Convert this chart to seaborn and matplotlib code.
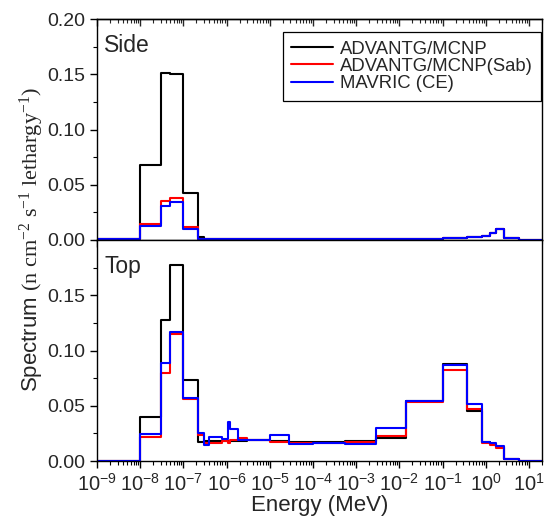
import numpy as np
import pandas as pd
import matplotlib
matplotlib.use("Agg")
import matplotlib.pyplot as plt
from matplotlib.ticker import MultipleLocator, FixedLocator, FormatStrFormatter, LogLocator, NullFormatter
import seaborn as sns

# ---------------- data ----------------
edges = [1e-9, 1e-8, 3e-8, 5e-8, 1e-7, 2.2e-7, 3e-7, 4e-7, 7.7e-7, 1.07e-6, 1.2e-6,
         1.8e-6, 3e-6, 1e-5, 2.8e-5, 1e-4, 5.5e-4, 2.8e-3, 1.4e-2, 0.1, 0.37, 0.8,
         1.25, 1.7, 2.7, 5.9, 20]

methods = ["ADVANTG/MCNP", "ADVANTG/MCNP(Sab)", "MAVRIC (CE)"]
colors = ["black", "red", "blue"]

side_mcnp = [0.0012, 0.0675, 0.1515, 0.150, 0.0424, 0.003, 0.0008, 0.0007, 0.0006, 0.0006,
             0.0006, 0.0006, 0.0006, 0.0006, 0.0006, 0.0006, 0.0006, 0.0007, 0.0007, 0.0015,
             0.003, 0.0036, 0.0066, 0.010, 0.0018, 0.0003]
side_sab = [0.0010, 0.0143, 0.0357, 0.038, 0.012, 0.0012, 0.0007, 0.0006, 0.0006, 0.0006,
            0.0006, 0.0006, 0.0006, 0.0006, 0.0006, 0.0006, 0.0006, 0.0007, 0.0007, 0.0015,
            0.003, 0.0036, 0.0066, 0.010, 0.0018, 0.0003]
side_mavric = [0.0008, 0.0127, 0.031, 0.0343, 0.0103, 0.0010, 0.0006, 0.0006, 0.0006, 0.0006,
               0.0006, 0.0006, 0.0006, 0.0006, 0.0006, 0.0006, 0.0006, 0.0007, 0.0007, 0.0015,
               0.003, 0.0036, 0.0066, 0.010, 0.0018, 0.0003]

top_mcnp = [0.0, 0.040, 0.128, 0.177, 0.073, 0.0173, 0.018, 0.018, 0.018, 0.018,
            0.018, 0.018, 0.0187, 0.018, 0.0175, 0.017, 0.0185, 0.021, 0.0545, 0.088,
            0.0455, 0.017, 0.0155, 0.013, 0.002, 0.0]
top_sab = [0.0, 0.022, 0.080, 0.1145, 0.0557, 0.0236, 0.0167, 0.0167, 0.018, 0.016,
           0.0187, 0.021, 0.019, 0.0175, 0.016, 0.0167, 0.017, 0.0225, 0.053, 0.082,
           0.0473, 0.016, 0.0148, 0.012, 0.002, 0.0]
top_mavric = [0.0, 0.0248, 0.089, 0.117, 0.057, 0.025, 0.0145, 0.0218, 0.020, 0.035,
              0.029, 0.019, 0.019, 0.0236, 0.0152, 0.0167, 0.015, 0.0297, 0.0543, 0.0867,
              0.052, 0.0176, 0.0167, 0.014, 0.002, 0.0]

y_ticks_side = [0.00, 0.05, 0.10, 0.15, 0.20]
y_ticks_top = [0.00, 0.05, 0.10, 0.15]
x_major = [1e-9, 1e-8, 1e-7, 1e-6, 1e-5, 1e-4, 1e-3, 1e-2, 1e-1, 1e0, 1e1]


def long_frame(series):
    rows = []
    for name, vals in zip(methods, series):
        yv = list(vals) + [vals[-1]]
        for e, v in zip(edges, yv):
            rows.append({"Energy": e, "Spectrum": v, "Method": name})
    return pd.DataFrame(rows)


df_side = long_frame([side_mcnp, side_sab, side_mavric])
df_top = long_frame([top_mcnp, top_sab, top_mavric])

# ---------------- style ----------------
sns.set_style("ticks")
plt.rcParams["font.family"] = ["Liberation Sans", "DejaVu Sans"]
plt.rcParams["mathtext.fontset"] = "custom"
plt.rcParams["mathtext.rm"] = "Liberation Serif"
plt.rcParams["mathtext.it"] = "Liberation Serif:italic"
plt.rcParams["axes.edgecolor"] = "black"
plt.rcParams["axes.linewidth"] = 1.0

fig = plt.figure(figsize=(5.52, 5.18), dpi=100)
L, R = 97 / 552, 542 / 552
y_top, y_mid, y_bot = 1 - 19 / 518, 1 - 240 / 518, 1 - 461 / 518
ax1 = fig.add_axes([L, y_mid, R - L, y_top - y_mid])
ax2 = fig.add_axes([L, y_bot, R - L, y_mid - y_bot], sharex=ax1)

pal = dict(zip(methods, colors))
for ax, df in [(ax1, df_side), (ax2, df_top)]:
    sns.lineplot(data=df, x="Energy", y="Spectrum", hue="Method", hue_order=methods,
                 palette=pal, estimator=None, sort=False, drawstyle="steps-post",
                 linewidth=1.5, ax=ax, legend=(ax is ax1))

for ax in (ax1, ax2):
    ax.set_xscale("log")
    ax.set_xlim(1e-9, 20)
    ax.set_ylim(0, 0.20)
    ax.set_xlabel("")
    ax.set_ylabel("")
    ax.xaxis.set_major_locator(FixedLocator(x_major))
    ax.xaxis.set_minor_locator(LogLocator(base=10, subs=np.arange(2, 10), numticks=50))
    ax.xaxis.set_minor_formatter(NullFormatter())
    ax.yaxis.set_minor_locator(MultipleLocator(0.025))
    ax.yaxis.set_major_formatter(FormatStrFormatter("%.2f"))
    ax.tick_params(axis="both", which="major", direction="out", length=5, width=1,
                   labelsize=14, color="black", right=False, top=False)
    ax.tick_params(axis="x", which="major", labelsize=14.5)
    ax.tick_params(axis="both", which="minor", direction="out", length=3, width=0.8,
                   color="black", right=False, top=False)
    for s in ax.spines.values():
        s.set_visible(True)
        s.set_color("black")
        s.set_linewidth(1.0)

ax1.yaxis.set_major_locator(FixedLocator(y_ticks_side))
ax2.yaxis.set_major_locator(FixedLocator(y_ticks_top))
ax1.tick_params(axis="x", labelbottom=False)

# inward ticks on top of the upper panel
sec = ax1.secondary_xaxis("top")
sec.xaxis.set_major_locator(FixedLocator(x_major))
sec.xaxis.set_minor_locator(LogLocator(base=10, subs=np.arange(2, 10), numticks=50))
sec.tick_params(which="major", direction="in", length=5, width=1, labeltop=False)
sec.tick_params(which="minor", direction="in", length=3, width=0.8)
sec.xaxis.set_minor_formatter(NullFormatter())

ax1.text(0.016, 0.93, "Side", transform=ax1.transAxes, fontsize=16.5, va="top", ha="left")
ax2.text(0.016, 0.93, "Top", transform=ax2.transAxes, fontsize=16.5, va="top", ha="left")

handles, labels = ax1.get_legend_handles_labels()
leg = ax1.legend(handles, labels, loc="upper right", bbox_to_anchor=(0.998, 0.94),
                 fontsize=13.3, frameon=True, fancybox=False, edgecolor="black",
                 framealpha=1, handlelength=2.3, handletextpad=0.35, labelspacing=0.02,
                 borderpad=0.45, borderaxespad=0.0)
leg.get_frame().set_linewidth(0.9)
for ln in leg.get_lines():
    ln.set_linewidth(1.5)

ax2.set_xlabel("Energy (MeV)", fontsize=16, labelpad=0.5)
fig.text(0.057, 1 - 240 / 518,
         r"Spectrum $\mathrm{(n\ cm^{-2}\ s^{-1}\ lethargy^{-1})}$",
         rotation=90, va="center", ha="center", fontsize=16)

fig.savefig("out.png", dpi=100)
